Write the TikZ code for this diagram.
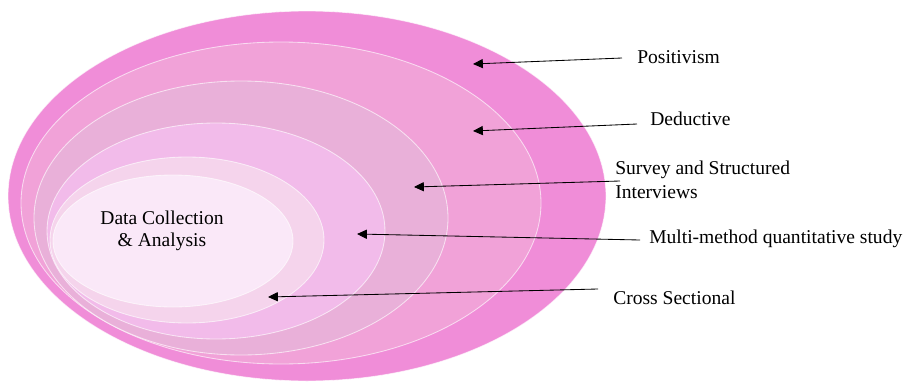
\documentclass[tikz,border=0pt]{standalone}
\usepackage{fontspec}
\setmainfont{Liberation Serif}
\usepackage{tikz}
\usetikzlibrary{arrows.meta,calc}

\definecolor{ringA}{RGB}{240,141,216}
\definecolor{ringB}{RGB}{241,162,216}
\definecolor{ringC}{RGB}{233,176,217}
\definecolor{ringD}{RGB}{242,187,234}
\definecolor{ringE}{RGB}{245,212,236}
\definecolor{ringF}{RGB}{250,232,248}

\begin{document}
\begin{tikzpicture}[
    x=0.025cm, y=-0.025cm,
    layer/.style={draw=white, draw opacity=0.65, line width=0.6pt},
    lbl/.style={anchor=west, inner sep=0pt, align=left, font=\fontsize{13.9}{17}\selectfont},
    arr/.style={-{Triangle[length=7pt,width=6.5pt]}, line width=0.6pt, black},
]
\useasboundingbox (0,0) rectangle (908,382);

% Nested layers, outermost first
\foreach \cx/\cy/\rx/\ry/\col in {307/196/299/185/ringA, 281/203/260/161/ringB,
        241/218/207/137/ringC, 216/231/169/108/ringD, 187/240/137/83/ringE,
        173/241/120/66/ringF} {
    \filldraw[layer, fill=\col] (\cx,\cy) ellipse [x radius=\rx, y radius=\ry];
}

% Core text
\node[font=\fontsize{13.9}{16}\selectfont, align=center] (core) at (162,231)
    {Data Collection\\\& Analysis};

% Labels on the right
\node[lbl] (philo) at (637,57) {Positivism};
\node[lbl] (appr)  at (650,119) {Deductive};
\node[lbl] (strat) at (615,180) {Survey and Structured\\Interviews};
\node[lbl] (choice) at (649,239) {Multi-method quantitative study};
\node[lbl] (horiz) at (613,298) {Cross Sectional};

% Arrow tips inside the layers
\coordinate (philo-tip)  at (473,64);
\coordinate (appr-tip)   at (473,131);
\coordinate (strat-tip)  at (414,187);
\coordinate (choice-tip) at (357,234);
\coordinate (horiz-tip)  at (268,297);

% Arrows
\draw[arr] ($(philo.west)+(-15,1)$) -- (philo-tip);
\draw[arr] ($(appr.west)+(-13,5)$) -- (appr-tip);
\draw[arr] ($(strat.west)+(5,1)$) -- (strat-tip);
\draw[arr] ($(choice.west)+(-9,1)$) -- (choice-tip);
\draw[arr] ($(horiz.west)+(-15,-9)$) -- (horiz-tip);
\end{tikzpicture}
\end{document}
